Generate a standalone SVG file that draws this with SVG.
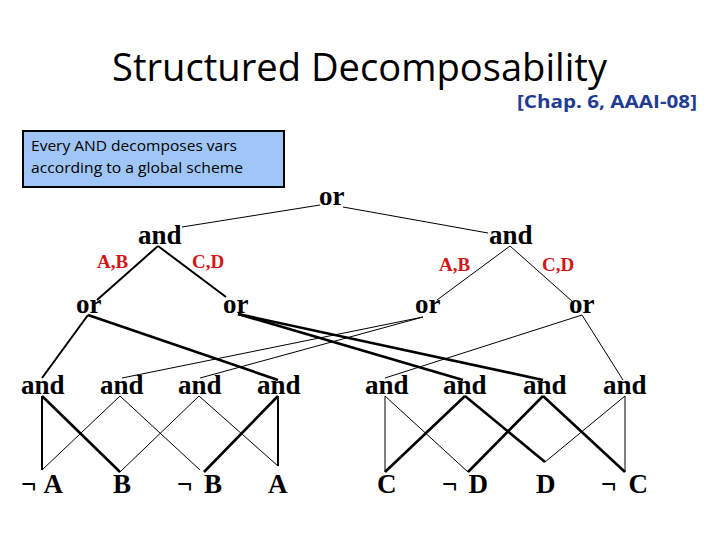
<svg xmlns="http://www.w3.org/2000/svg" width="720" height="540" viewBox="0 0 720 540">
<style>
.t{font-family:"Liberation Serif","Times New Roman",serif;font-weight:bold;font-size:27px;fill:#000}
.lab{font-family:"Liberation Serif","Times New Roman",serif;font-weight:bold;font-size:19px;fill:#d01818}
.s{font-family:"Open Sans","Liberation Sans",Arial,sans-serif}
.c1{stroke:#000;stroke-width:1;fill:none}
.c2{stroke:#000;stroke-width:2;fill:none}
.c3{stroke:#000;stroke-width:2.6;fill:none}
</style>
<rect width="720" height="540" fill="#fff"/>
<g id="title">
<text class="s" x="112" y="81" font-size="38" textLength="495" lengthAdjust="spacingAndGlyphs">Structured Decomposability</text>
<text class="s" x="517" y="108" font-size="18" font-weight="bold" fill="#1f3c94" textLength="180" lengthAdjust="spacingAndGlyphs">[Chap. 6, AAAI-08]</text>
</g>
<g id="note">
<rect x="23" y="131" width="261" height="56" fill="#9fc6f6" stroke="#000" stroke-width="2"/>
<text class="s" x="31" y="151" font-size="14" textLength="206" lengthAdjust="spacingAndGlyphs">Every AND decomposes vars</text>
<text class="s" x="31" y="173" font-size="14" textLength="212" lengthAdjust="spacingAndGlyphs">according to a global scheme</text>
</g>
<g id="connectors">
<line class="c1" x1="320" y1="205" x2="182" y2="227"/>
<line class="c1" x1="343" y1="207" x2="488" y2="233"/>
<line class="c2" x1="158" y1="246" x2="97" y2="300"/>
<line class="c2" x1="158" y1="246" x2="226" y2="297"/>
<line class="c1" x1="510" y1="246" x2="437" y2="300"/>
<line class="c1" x1="510" y1="246" x2="573" y2="302"/>
<line class="c2" x1="88" y1="315" x2="42" y2="378"/>
<line class="c3" x1="88" y1="315" x2="278" y2="380"/>
<line class="c3" x1="238" y1="314" x2="463" y2="380"/>
<line class="c3" x1="238" y1="314" x2="543" y2="380"/>
<line class="c1" x1="423" y1="317" x2="122" y2="378"/>
<line class="c1" x1="423" y1="317" x2="200" y2="378"/>
<line class="c1" x1="582" y1="315" x2="385" y2="378"/>
<line class="c1" x1="582" y1="315" x2="623" y2="380"/>
<line class="c2" x1="42" y1="396" x2="42" y2="470"/>
<line class="c3" x1="42" y1="396" x2="120" y2="472"/>
<line class="c1" x1="120" y1="396" x2="42" y2="470"/>
<line class="c1" x1="120" y1="396" x2="200" y2="470"/>
<line class="c1" x1="199" y1="396" x2="120" y2="472"/>
<line class="c1" x1="199" y1="396" x2="278" y2="466"/>
<line class="c3" x1="278" y1="396" x2="204" y2="472"/>
<line class="c2" x1="278" y1="396" x2="278" y2="466"/>
<line class="c1" x1="385" y1="396" x2="385" y2="472"/>
<line class="c1" x1="385" y1="396" x2="468" y2="472"/>
<line class="c3" x1="465" y1="396" x2="385" y2="472"/>
<line class="c3" x1="465" y1="396" x2="545" y2="462"/>
<line class="c3" x1="543" y1="396" x2="468" y2="472"/>
<line class="c3" x1="543" y1="396" x2="625" y2="472"/>
<line class="c1" x1="625" y1="396" x2="545" y2="462"/>
<line class="c1" x1="625" y1="396" x2="625" y2="472"/>
</g>
<g id="or-root"><text class="t" x="319" y="205">or</text></g>
<g id="and-L"><text class="t" x="138" y="244">and</text></g>
<g id="and-R"><text class="t" x="489" y="244">and</text></g>
<g id="labels">
<text class="lab" x="97" y="268">A,B</text>
<text class="lab" x="192" y="268">C,D</text>
<text class="lab" x="439" y="271">A,B</text>
<text class="lab" x="542" y="271">C,D</text>
</g>
<g id="or1"><text class="t" x="76" y="313">or</text></g>
<g id="or2"><text class="t" x="223" y="313">or</text></g>
<g id="or3"><text class="t" x="415" y="313">or</text></g>
<g id="or4"><text class="t" x="569" y="313">or</text></g>
<g id="and1"><text class="t" x="21" y="394">and</text></g>
<g id="and2"><text class="t" x="100" y="394">and</text></g>
<g id="and3"><text class="t" x="178" y="394">and</text></g>
<g id="and4"><text class="t" x="257" y="394">and</text></g>
<g id="and5"><text class="t" x="365" y="394">and</text></g>
<g id="and6"><text class="t" x="443" y="394">and</text></g>
<g id="and7"><text class="t" x="523" y="394">and</text></g>
<g id="and8"><text class="t" x="603" y="394">and</text></g>
<g id="leaf-notA"><text class="t" x="21" y="493" textLength="42" lengthAdjust="spacing">¬A</text></g>
<g id="leaf-B"><text class="t" x="113" y="493">B</text></g>
<g id="leaf-notB"><text class="t" x="177" y="493" textLength="45" lengthAdjust="spacing">¬ B</text></g>
<g id="leaf-A"><text class="t" x="268" y="493">A</text></g>
<g id="leaf-C"><text class="t" x="377" y="493">C</text></g>
<g id="leaf-notD"><text class="t" x="442" y="493" textLength="46" lengthAdjust="spacing">¬ D</text></g>
<g id="leaf-D"><text class="t" x="536" y="493">D</text></g>
<g id="leaf-notC"><text class="t" x="601" y="493" textLength="47" lengthAdjust="spacing">¬ C</text></g>
</svg>
